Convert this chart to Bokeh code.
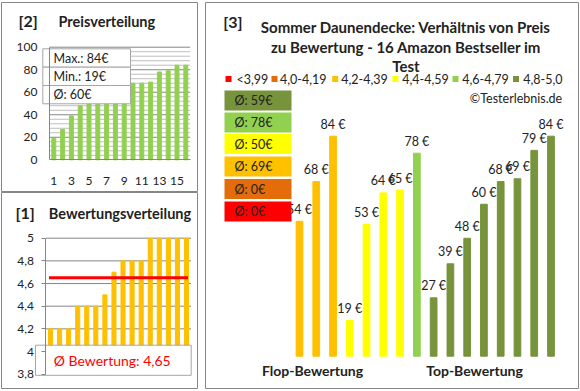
import numpy as np
from bokeh.plotting import figure
from bokeh.models import Range1d, LinearAxis, FixedTicker, CustomJSTickFormatter
from bokeh.layouts import row, column
from bokeh.embed import file_html
from bokeh.resources import INLINE
from bokeh.core.properties import value

# ---------------- data ----------------
prices = [54, 68, 84, 19, 53, 64, 65, 78, 27, 39, 48, 60, 68, 69, 79, 84]
ratings = [4.2, 4.2, 4.2, 4.4, 4.4, 4.4, 4.5, 4.7, 4.8, 4.8, 4.8, 5.0, 5.0, 5.0, 5.0, 5.0]
bin_labels = ["<3,99", "4,0-4,19", "4,2-4,39", "4,4-4,59", "4,6-4,79", "4,8-5,0"]
bin_lower = [0.0, 4.0, 4.2, 4.4, 4.6, 4.8]
bin_colors = ["#FF0000", "#E46C0A", "#FFC000", "#FFFF00", "#92D050", "#77933C"]
price_ticks = [0, 20, 40, 60, 80, 100]
price_minor_step = 4
rank_ticks = [1, 3, 5, 7, 9, 11, 13, 15]
rating_ticks = [3.8, 4.0, 4.2, 4.4, 4.6, 4.8, 5.0]
group_labels = ["Flop-Bewertung", "Top-Bewertung"]
title_lines = ["Sommer Daunendecke: Verhältnis von Preis",
               "zu Bewertung - 16 Amazon Bestseller im",
               "Test"]
copyright_text = "©Testerlebnis.de"

FONT = "Lato"
TXT = "#222222"
GRID = "#868686"
GRID_MINOR = "#BFBFBF"
BOXLINE = "#A6A6A6"

n = len(prices)
idx = list(range(1, n + 1))


def lin(v0, p0, v1, p1):
    k = (p1 - p0) / (v1 - v0)
    return lambda px: v0 + (px - p0) / k


def make_fig(W, H, xm, ym, top=2, bottom=1):
    p = figure(width=W, height=H, output_backend="svg", toolbar_location=None,
               x_range=Range1d(xm(1), xm(W - 1)), y_range=Range1d(ym(H - bottom), ym(top)),
               x_axis_location=None, y_axis_location=None)
    p.min_border_left = 1
    p.min_border_right = 1
    p.min_border_top = top
    p.min_border_bottom = bottom
    for g in p.grid:
        g.visible = False
    p.outline_line_color = GRID
    p.outline_line_width = 1
    p.background_fill_color = "white"
    p.border_fill_color = "white"
    return p


def txt(p, x, y, s, size=12, color=TXT, bold=False, align="left"):
    p.text(x=[x], y=[y], text=[s], text_font=value(FONT), text_font_size=f"{size}px",
           text_font_style="bold" if bold else "normal", text_color=color,
           text_align=align, text_baseline="middle")


def style_axis(ax):
    ax.axis_line_color = GRID
    ax.major_tick_line_color = GRID
    ax.major_tick_out = 0
    ax.major_tick_in = 0
    ax.minor_tick_out = 0
    ax.minor_tick_in = 0
    ax.major_label_text_font = FONT
    ax.major_label_text_font_size = "12px"
    ax.major_label_text_color = TXT


# ================= [2] Preisverteilung =================
W1, H1 = 198, 192
xm1 = lin(1, 53.3, 16, 185.3)
ym1 = lin(0, 159.3, 100, 46.7)
p1 = make_fig(W1, H1, xm1, ym1, top=2, bottom=1)

sorted_prices = sorted(prices)
for t in range(0, 101, price_minor_step):
    if t % 20 != 0:
        p1.segment(x0=[0.5], x1=[n + 0.5], y0=[t], y1=[t], line_color=GRID_MINOR, line_width=1)
for t in price_ticks[1:]:
    p1.segment(x0=[0.5], x1=[n + 0.5], y0=[t], y1=[t], line_color=GRID, line_width=1)
p1.vbar(x=idx, top=sorted_prices, bottom=0, width=0.45, color="#92D050")

yax1 = LinearAxis(fixed_location=0.5, bounds=(price_ticks[0], price_ticks[-1]),
                  ticker=FixedTicker(ticks=price_ticks))
xax1 = LinearAxis(fixed_location=0, bounds=(0.5, n + 0.5), ticker=FixedTicker(ticks=rank_ticks))
style_axis(yax1)
style_axis(xax1)
yax1.major_label_standoff = 12
xax1.major_label_standoff = 17
p1.add_layout(yax1, "left")
p1.add_layout(xax1, "below")

# stats box
box_rows = [48.3, 66.7, 85.0, 103.3]
stats = [f"Max.: {max(prices)}€", f"Min.: {min(prices)}€", f"Ø: {round(float(np.mean(prices)))}€"]
p1.quad(left=[xm1(42.3)] * 3, right=[xm1(130)] * 3,
        top=[ym1(v) for v in box_rows[:-1]], bottom=[ym1(v) for v in box_rows[1:]],
        fill_color="white", line_color=BOXLINE, line_width=1)
for i, s in enumerate(stats):
    txt(p1, xm1(53), ym1((box_rows[i] + box_rows[i + 1]) / 2), s, 12.5)

txt(p1, xm1(18), ym1(19.5), "[2]", 16, bold=True)
txt(p1, xm1(58), ym1(20.5), "Preisverteilung", 14.5, bold=True)

# ================= [1] Bewertungsverteilung =================
OY2 = 192
W2, H2 = 198, 197
xm2 = lin(1, 50.0, 16, 186.0)
ym2 = lin(5.0, 237.7 - OY2, 3.8, 373.7 - OY2)
p2 = make_fig(W2, H2, xm2, ym2, top=0, bottom=1)

sorted_ratings = sorted(ratings)
for t in rating_ticks[1:]:
    p2.segment(x0=[0.5], x1=[n + 0.5], y0=[t], y1=[t], line_color=GRID, line_width=1)
p2.vbar(x=idx, top=sorted_ratings, bottom=rating_ticks[0], width=0.45, color="#FFC000")
mean_rating = float(np.mean(ratings))
p2.line(x=[idx[0], idx[-1]], y=[mean_rating, mean_rating], line_color="#FF0000", line_width=3,
        line_cap="square")

yax2 = LinearAxis(fixed_location=0.5, bounds=(rating_ticks[0], rating_ticks[-1]),
                  ticker=FixedTicker(ticks=rating_ticks))
yax2.formatter = CustomJSTickFormatter(
    code="const s = (Math.round(tick*10)/10).toString(); return s.replace('.', ',');")
style_axis(yax2)
yax2.major_tick_out = 4
yax2.major_label_standoff = 8
p2.add_layout(yax2, "left")

p2.quad(left=[xm2(35)], right=[xm2(190.7)], top=[ym2(344.7 - OY2)], bottom=[ym2(374.8 - OY2)],
        fill_color="white", line_color=BOXLINE, line_width=1)
txt(p2, xm2(111.7), ym2(359.8 - OY2), "Ø Bewertung: " + f"{mean_rating:.2f}".replace(".", ","), 14,
    color="#FF0000", align="center")

txt(p2, xm2(15), ym2(211.7 - OY2), "[1]", 16, bold=True)
txt(p2, xm2(48.3), ym2(212.7 - OY2), "Bewertungsverteilung", 14.5, bold=True)

# ================= [3] Preis vs Bewertung =================
OX3 = 204
W3, H3 = 375, 389
xm3 = lin(1, 299.0 - OX3, 16, 550.5 - OX3)
ym3 = lin(0, 373.9, 84, 135.7)
p3 = make_fig(W3, H3, xm3, ym3, top=2, bottom=1)
px_per_unit = (373.9 - 135.7) / 84
baseline = ym3(355.7)


def bin_of(r):
    b = 0
    for i, lo in enumerate(bin_lower):
        if r >= lo:
            b = i
    return b


bins = [bin_of(r) for r in ratings]
bar_colors = [bin_colors[b] for b in bins]
p3.vbar(x=idx, top=prices, bottom=baseline, width=0.4, color=bar_colors)
p3.text(x=idx, y=[v + 12.0 / px_per_unit for v in prices], text=[f"{v} €" for v in prices],
        text_font=value(FONT), text_font_size="12.5px", text_color=TXT,
        text_align="center", text_baseline="middle")

# average boxes (top to bottom: best bin first)
box_tops = [90.0, 112.0, 133.5, 156.0, 178.5, 201.0]
box_h = 20.0
order = list(range(len(bin_labels)))[::-1]
for k, b in enumerate(order):
    vals = [prices[i] for i in range(n) if bins[i] == b]
    avg = round(float(np.mean(vals))) if vals else 0
    top = box_tops[k]
    p3.quad(left=[xm3(224 - OX3)], right=[xm3(291 - OX3)], top=[ym3(top)], bottom=[ym3(top + box_h)],
            fill_color=bin_colors[b], line_color=None)
    txt(p3, xm3(234 - OX3), ym3(top + box_h / 2), f"Ø: {avg}€", 12.5)

# legend
leg_sq = [228, 274, 334.7, 394.9, 455, 515.5]
leg_tx = [236, 279.5, 340.7, 401.7, 461.7, 522.7]
leg_y = 78.5
p3.scatter(x=[xm3(v - OX3) for v in leg_sq], y=[ym3(leg_y)] * len(leg_sq), marker="square",
           size=6, color=bin_colors, line_color=None)
for i, s in enumerate(bin_labels):
    txt(p3, xm3(leg_tx[i] - OX3), ym3(leg_y), s, 12.5)

txt(p3, xm3(561.7 - OX3), ym3(97.5), copyright_text, 12.5, align="right")
txt(p3, xm3(222.7 - OX3), ym3(21.0), "[3]", 16, bold=True)
for s, yy in zip(title_lines, [26.5, 46.0, 65.0]):
    txt(p3, xm3(405.5 - OX3), ym3(yy), s, 15, bold=True, align="center")
txt(p3, xm3(312 - OX3), ym3(369.5), group_labels[0], 14, bold=True, align="center")
txt(p3, xm3(474 - OX3), ym3(369.5), group_labels[1], 14, bold=True, align="center")

layout = row(column(p1, p2, spacing=0), p3, spacing=6)
open("out.html", "w").write(file_html(layout, INLINE))
